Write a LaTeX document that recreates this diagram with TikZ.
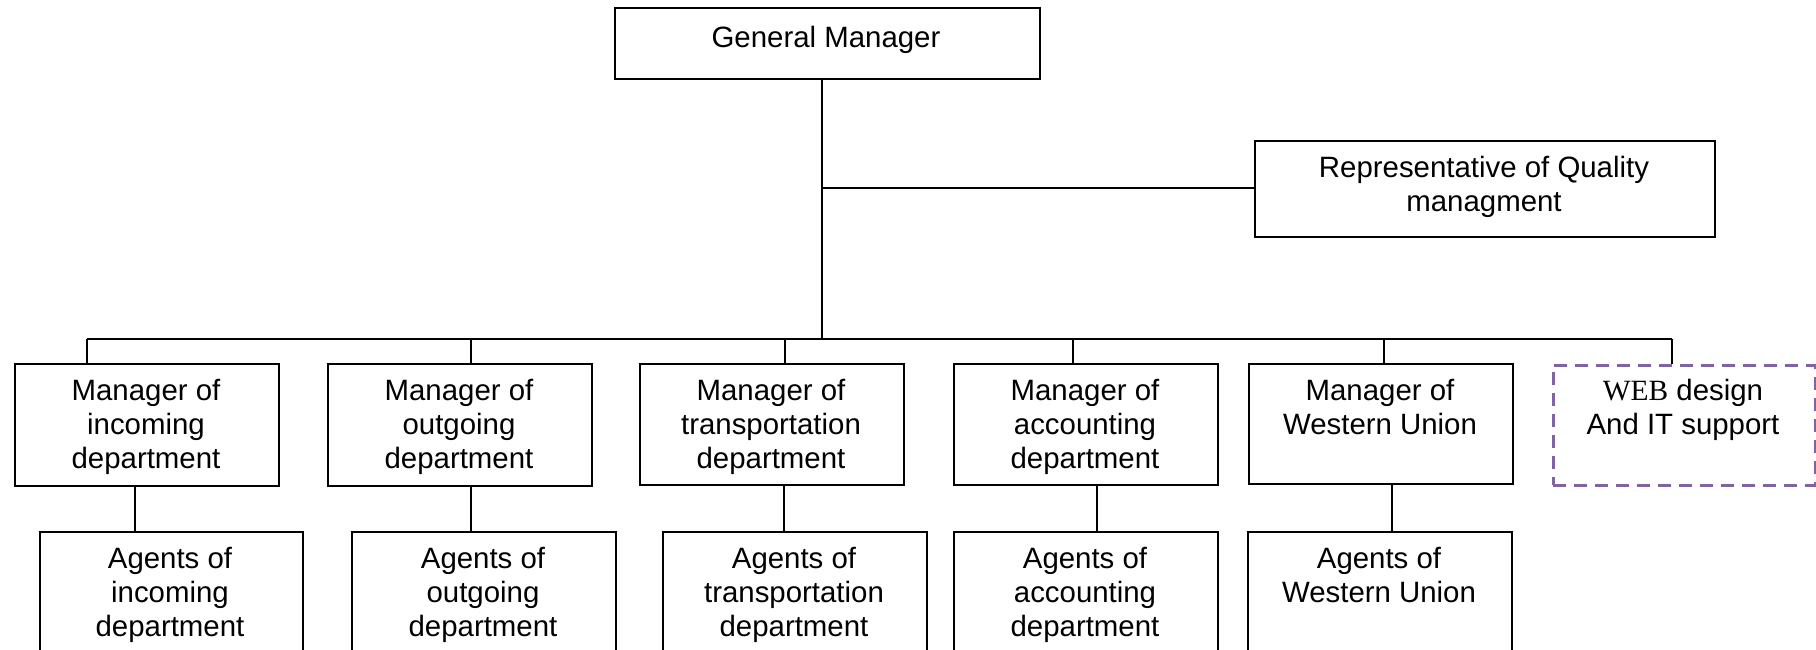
\documentclass[tikz,border=0pt]{standalone}
\usepackage{fontspec}
\setmainfont{Liberation Sans}
\newfontfamily\webserif{Liberation Serif}
\usetikzlibrary{calc}
\definecolor{webpurple}{HTML}{8064A2}
\begin{document}
\begin{tikzpicture}[x=0.5pt,y=-0.5pt,
  box/.style={draw, line width=1pt, inner sep=0pt, anchor=north west},
  dbox/.style={draw=webpurple, line width=1.4pt, dash pattern=on 6.5pt off 4pt, inner sep=0pt, anchor=north west},
  sz/.style 2 args={minimum width=#1*0.5pt, minimum height=#2*0.5pt},
  lbl/.style={anchor=base, align=center, inner sep=0pt, font=\fontsize{14.7pt}{17pt}\selectfont},
  conn/.style={line width=0.75pt}]
\useasboundingbox (0,0) rectangle (1816,649);
% boxes
\node[box, sz={425}{71}] (gm) at (614,7) {};
\node[box, sz={460}{96}] (qual) at (1254,140) {};
\node[box, sz={264}{122}] (m1) at (14,363) {};
\node[box, sz={264}{122}] (m2) at (327,363) {};
\node[box, sz={264}{121}] (m3) at (639,363) {};
\node[box, sz={264}{121}] (m4) at (953,363) {};
\node[box, sz={264}{120}] (m5) at (1248,363) {};
\node[dbox, sz={262}{120}] (web) at (1552,364) {};
\node[box, sz={263}{150}] (a1) at (39,531) {};
\node[box, sz={264}{150}] (a2) at (351,531) {};
\node[box, sz={264}{150}] (a3) at (662,531) {};
\node[box, sz={264}{150}] (a4) at (953,531) {};
\node[box, sz={264}{150}] (a5) at (1247,531) {};
% labels (anchor base = baseline of last line)
\node[lbl] (gmt) at (826,47) {General Manager};
\node[lbl] (qualt) at (1484,211) {Representative of Quality\\managment};
\node[lbl] (m1t) at (146,468) {Manager of\\incoming\\department};
\node[lbl] (m2t) at (459,468) {Manager of\\outgoing\\department};
\node[lbl] (m3t) at (771,468) {Manager of\\transportation\\department};
\node[lbl] (m4t) at (1085,468) {Manager of\\accounting\\department};
\node[lbl] (m5t) at (1380,434) {Manager of\\Western Union};
\node[lbl] (webt) at (1683,434) {{\webserif WEB} design\\And IT support};
\node[lbl] (a1t) at (170,636) {Agents of\\incoming\\department};
\node[lbl] (a2t) at (483,636) {Agents of\\outgoing\\department};
\node[lbl] (a3t) at (794,636) {Agents of\\transportation\\department};
\node[lbl] (a4t) at (1085,636) {Agents of\\accounting\\department};
\node[lbl] (a5t) at (1379,602) {Agents of\\Western Union};
% trunk and branches
\coordinate (tb) at (822,339);
\coordinate (tq) at (822,188);
\draw[conn] (gm.south -| tb) -- (tb);
\draw[conn] (tq) -- (qual.west |- tq);
\coordinate (d1) at (87,339);
\coordinate (d2) at (471,339);
\coordinate (d3) at (785,339);
\coordinate (d4) at (1073,339);
\coordinate (d5) at (1384,339);
\coordinate (d6) at (1672,339);
\draw[conn] (d1) -- (d6);
\draw[conn] (d1) -- (d1 |- m1.north);
\draw[conn] (d2) -- (d2 |- m2.north);
\draw[conn] (d3) -- (d3 |- m3.north);
\draw[conn] (d4) -- (d4 |- m4.north);
\draw[conn] (d5) -- (d5 |- m5.north);
\draw[conn] (d6) -- (d6 |- web.north);
% manager to agents
\coordinate (c1) at (135,500);
\coordinate (c2) at (471,500);
\coordinate (c3) at (784,500);
\coordinate (c4) at (1097,500);
\coordinate (c5) at (1392,500);
\draw[conn] (c1 |- m1.south) -- (c1 |- a1.north);
\draw[conn] (c2 |- m2.south) -- (c2 |- a2.north);
\draw[conn] (c3 |- m3.south) -- (c3 |- a3.north);
\draw[conn] (c4 |- m4.south) -- (c4 |- a4.north);
\draw[conn] (c5 |- m5.south) -- (c5 |- a5.north);
\end{tikzpicture}
\end{document}
